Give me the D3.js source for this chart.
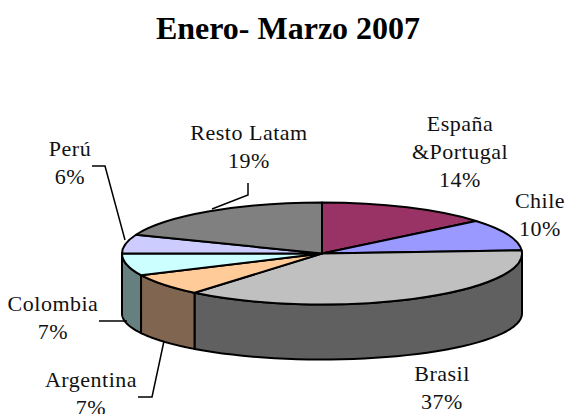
<!DOCTYPE html>
<html><head><meta charset="utf-8">
<script src="https://cdnjs.cloudflare.com/ajax/libs/d3/7.8.5/d3.min.js"></script>
<style>html,body{margin:0;padding:0;background:#fff;overflow:hidden}svg{display:block}
text{font-family:"Liberation Serif",serif;fill:#111}</style></head><body>
<script>
const chartTitle = "Enero- Marzo 2007";
const categories = ["España &Portugal","Chile","Brasil","Argentina","Colombia","Perú","Resto Latam"];
const values = [14,10,37,7,7,6,19];
const topColors = ["#993366","#9999FF","#C0C0C0","#FFCC99","#CCFFFF","#CCCCFF","#808080"];
const sideColors = ["#5C1F3D","#5C5C99","#606060","#806650","#668080","#7A7A99","#4D4D4D"];
const labelLines = [["España","&Portugal","14%"],["Chile","10%"],["Brasil","37%"],["Argentina","7%"],["Colombia","7%"],["Perú","6%"],["Resto Latam","19%"]];
const labelAnchors = [[460,131],[540,208],[442,381],[91,387],[53,311],[70,156],[249,140]];
const leaderLines = [[[92,166],[105,166],[125,240]],[[248,183],[248,195],[212,209]],[[99,321],[127,321]],[[164,341],[152,397],[138,397]]];

const W=565,H=414,cx=322,cy=253.5,rx=200,ry=51,depth=60,bottomRy=46;
const svg=d3.select("body").append("svg").attr("width",W).attr("height",H);
svg.append("text").attr("x",288).attr("y",39).attr("text-anchor","middle")
  .attr("font-size",32).attr("font-weight","bold").style("fill","#000").text(chartTitle);

const arcs=d3.pie().sort(null)(values);
const px=a=>cx+rx*Math.sin(a), py=a=>cy-ry*Math.cos(a), pyB=a=>cy+depth-bottomRy*Math.cos(a);
const line=d3.line();

// Side walls: only the front half of the rim (pi/2 .. 3pi/2) is visible
const side=svg.append("g");
arcs.forEach((d,i)=>{
  const a0=Math.max(d.startAngle,Math.PI/2), a1=Math.min(d.endAngle,Math.PI*3/2);
  if(a1<=a0) return;
  const n=40, ang=d3.range(n+1).map(k=>a0+(a1-a0)*k/n);
  const top=ang.map(a=>[px(a),py(a)]), bottom=ang.slice().reverse().map(a=>[px(a),pyB(a)]);
  side.append("path").attr("d",line(top.concat(bottom))+"Z")
    .attr("fill",sideColors[i]).attr("stroke","#000").attr("stroke-width",2).attr("stroke-linejoin","round");
});

// Top face: circular d3.arc flattened into an ellipse
const arc=d3.arc().innerRadius(0).outerRadius(rx);
svg.append("g").attr("transform",`translate(${cx},${cy}) scale(1,${ry/rx})`)
  .selectAll("path").data(arcs).join("path")
  .attr("d",arc).attr("fill",(d,i)=>topColors[i])
  .attr("stroke","#000").attr("stroke-width",2).attr("stroke-linejoin","round")
  .attr("vector-effect","non-scaling-stroke");

// Leader lines
svg.append("g").selectAll("path").data(leaderLines).join("path")
  .attr("d",d=>line(d)).attr("fill","none").attr("stroke","#000").attr("stroke-width",1.5);

// Labels
labelLines.forEach((ls,i)=>{
  const t=svg.append("text").attr("text-anchor","middle").attr("font-size",22).attr("letter-spacing",0.5);
  ls.forEach((s,k)=>t.append("tspan").attr("x",labelAnchors[i][0]).attr("y",labelAnchors[i][1]+k*28).text(s));
});
</script></body></html>
